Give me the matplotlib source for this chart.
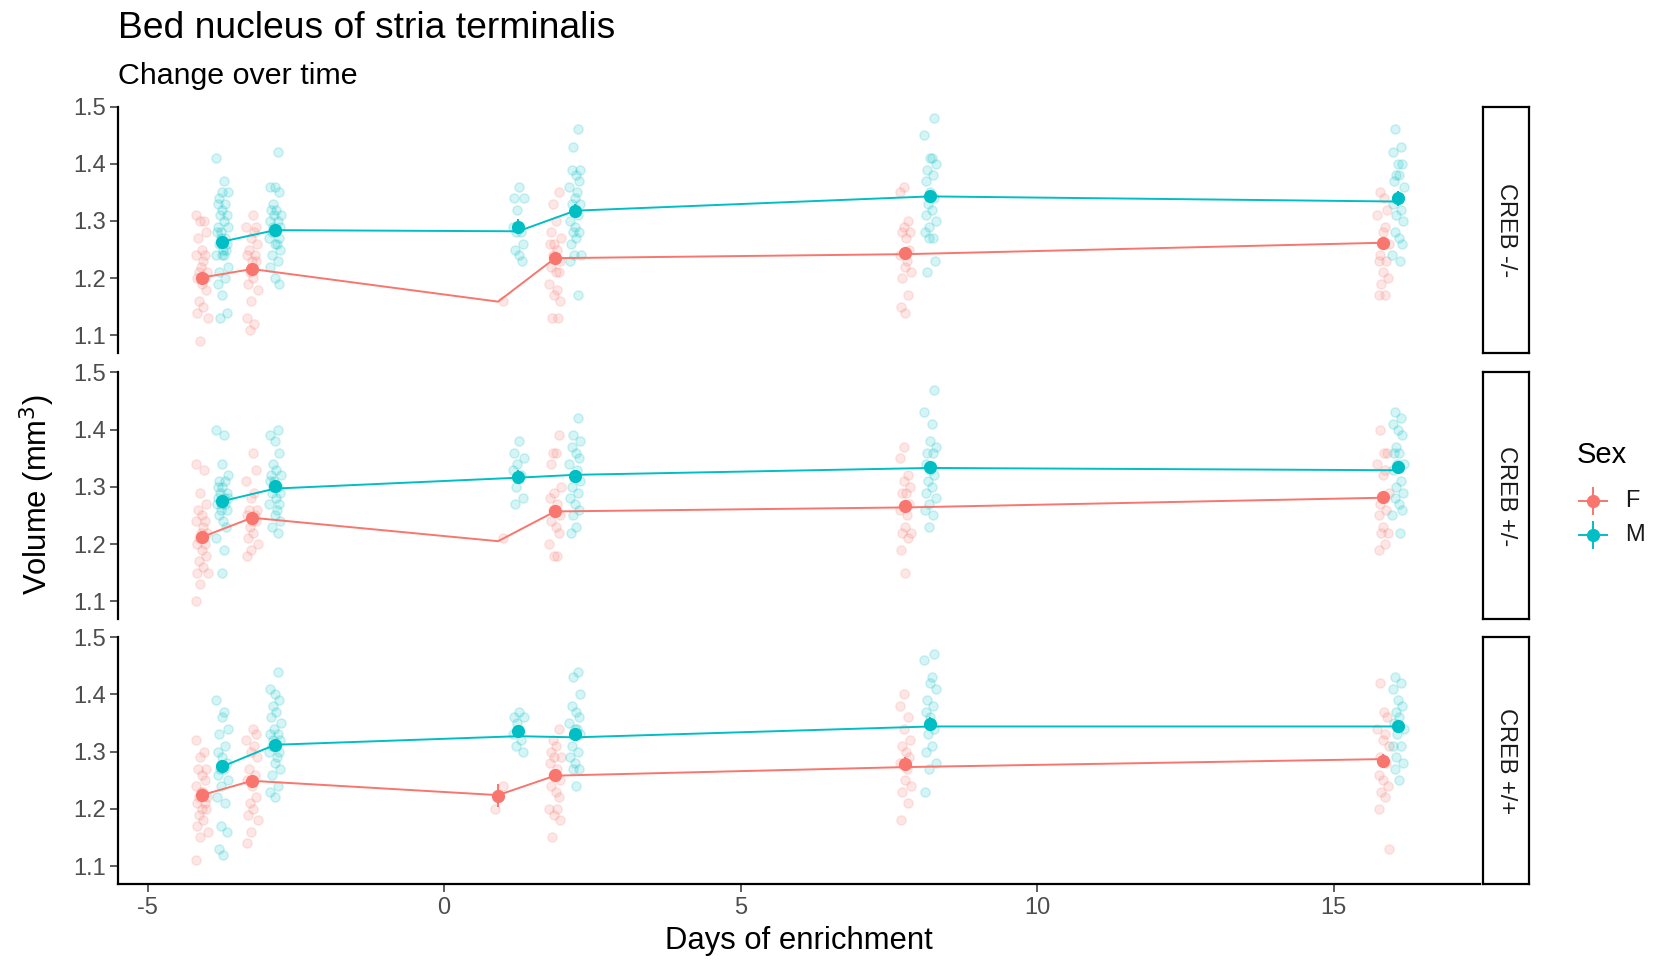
import matplotlib
matplotlib.use("Agg")
import matplotlib.pyplot as plt
import numpy as np

plt.rcParams['font.family'] = ['Liberation Sans', 'DejaVu Sans']

W, H = 1654, 960
COL_F = '#F8766D'
COL_M = '#00BFC4'
TICK_GREY = '#4D4D4D'

GENOTYPES = ["CREB -/-", "CREB +/-", "CREB +/+"]
DAYS_F = [-4.09, -3.24, 0.91, 1.87, 7.78, 15.84]
DAYS_M = [-3.74, -2.85, 1.25, 2.21, 8.20, 16.09]

# individual volumes (mm^3), one list per time point
KO_F = [[1.31, 1.30, 1.30, 1.28, 1.27, 1.25, 1.24, 1.24, 1.23, 1.22, 1.21, 1.21, 1.20, 1.20, 1.19, 1.18, 1.16, 1.15, 1.14, 1.13, 1.09],
        [1.31, 1.29, 1.29, 1.28, 1.27, 1.26, 1.25, 1.24, 1.24, 1.23, 1.23, 1.21, 1.20, 1.19, 1.18, 1.16, 1.13, 1.12, 1.11],
        [1.16],
        [1.35, 1.33, 1.30, 1.28, 1.27, 1.26, 1.26, 1.25, 1.24, 1.23, 1.22, 1.21, 1.21, 1.19, 1.18, 1.17, 1.16, 1.13, 1.13],
        [1.36, 1.35, 1.30, 1.29, 1.28, 1.28, 1.27, 1.25, 1.24, 1.23, 1.22, 1.21, 1.20, 1.17, 1.15, 1.14],
        [1.35, 1.34, 1.32, 1.31, 1.29, 1.28, 1.26, 1.24, 1.23, 1.23, 1.21, 1.20, 1.19, 1.17, 1.17]]
KO_M = [[1.41, 1.37, 1.35, 1.35, 1.34, 1.33, 1.33, 1.32, 1.31, 1.31, 1.30, 1.29, 1.29, 1.28, 1.28, 1.27, 1.27, 1.26, 1.26, 1.25, 1.25, 1.24, 1.24, 1.24, 1.22, 1.21, 1.20, 1.19, 1.17, 1.14, 1.13],
        [1.42, 1.36, 1.36, 1.35, 1.33, 1.32, 1.32, 1.31, 1.31, 1.30, 1.30, 1.29, 1.29, 1.28, 1.28, 1.27, 1.27, 1.26, 1.26, 1.25, 1.24, 1.23, 1.22, 1.20, 1.19],
        [1.36, 1.34, 1.34, 1.32, 1.29, 1.28, 1.28, 1.26, 1.25, 1.24, 1.23],
        [1.46, 1.43, 1.39, 1.39, 1.38, 1.37, 1.36, 1.35, 1.34, 1.33, 1.33, 1.31, 1.30, 1.29, 1.28, 1.28, 1.27, 1.26, 1.24, 1.24, 1.23, 1.17],
        [1.48, 1.45, 1.41, 1.41, 1.40, 1.39, 1.38, 1.37, 1.35, 1.34, 1.33, 1.32, 1.31, 1.30, 1.29, 1.28, 1.27, 1.27, 1.23, 1.21],
        [1.46, 1.43, 1.42, 1.40, 1.40, 1.38, 1.38, 1.37, 1.36, 1.34, 1.33, 1.32, 1.31, 1.30, 1.28, 1.27, 1.26, 1.24, 1.23]]
HET_F = [[1.34, 1.33, 1.29, 1.27, 1.26, 1.25, 1.24, 1.24, 1.23, 1.22, 1.22, 1.21, 1.20, 1.20, 1.19, 1.18, 1.17, 1.16, 1.15, 1.15, 1.13, 1.10],
         [1.36, 1.33, 1.31, 1.29, 1.28, 1.26, 1.26, 1.25, 1.25, 1.24, 1.24, 1.23, 1.22, 1.21, 1.20, 1.19, 1.18],
         [1.21],
         [1.39, 1.36, 1.36, 1.34, 1.30, 1.29, 1.28, 1.27, 1.26, 1.25, 1.24, 1.23, 1.22, 1.20, 1.18, 1.18],
         [1.37, 1.35, 1.32, 1.31, 1.30, 1.29, 1.29, 1.27, 1.26, 1.25, 1.23, 1.22, 1.22, 1.21, 1.19, 1.15],
         [1.40, 1.36, 1.36, 1.34, 1.33, 1.32, 1.29, 1.27, 1.26, 1.25, 1.23, 1.22, 1.22, 1.20, 1.19]]
HET_M = [[1.40, 1.39, 1.34, 1.32, 1.31, 1.31, 1.30, 1.30, 1.29, 1.29, 1.28, 1.28, 1.28, 1.27, 1.27, 1.27, 1.26, 1.26, 1.25, 1.24, 1.23, 1.21, 1.19, 1.15],
         [1.40, 1.39, 1.38, 1.36, 1.34, 1.33, 1.32, 1.32, 1.31, 1.31, 1.30, 1.30, 1.29, 1.29, 1.28, 1.27, 1.27, 1.26, 1.25, 1.24, 1.23, 1.22],
         [1.38, 1.36, 1.35, 1.34, 1.33, 1.32, 1.30, 1.28, 1.27],
         [1.42, 1.39, 1.38, 1.37, 1.36, 1.35, 1.34, 1.33, 1.32, 1.31, 1.30, 1.29, 1.28, 1.27, 1.26, 1.25, 1.23, 1.22],
         [1.47, 1.43, 1.41, 1.38, 1.37, 1.36, 1.36, 1.34, 1.33, 1.32, 1.31, 1.30, 1.29, 1.28, 1.27, 1.26, 1.25, 1.23],
         [1.43, 1.42, 1.41, 1.40, 1.39, 1.37, 1.36, 1.36, 1.34, 1.34, 1.33, 1.31, 1.30, 1.29, 1.28, 1.27, 1.26, 1.25, 1.22]]
WT_F = [[1.32, 1.30, 1.29, 1.27, 1.27, 1.26, 1.25, 1.24, 1.23, 1.23, 1.22, 1.22, 1.21, 1.21, 1.20, 1.20, 1.19, 1.18, 1.17, 1.16, 1.15, 1.11],
        [1.34, 1.33, 1.32, 1.31, 1.30, 1.29, 1.27, 1.26, 1.25, 1.24, 1.22, 1.21, 1.20, 1.19, 1.18, 1.16, 1.14],
        [1.24, 1.20],
        [1.34, 1.32, 1.31, 1.30, 1.29, 1.29, 1.28, 1.27, 1.26, 1.25, 1.24, 1.23, 1.22, 1.20, 1.20, 1.19, 1.18, 1.15],
        [1.40, 1.38, 1.36, 1.34, 1.32, 1.31, 1.30, 1.29, 1.28, 1.27, 1.25, 1.24, 1.23, 1.21, 1.18],
        [1.42, 1.37, 1.36, 1.34, 1.33, 1.32, 1.31, 1.29, 1.28, 1.26, 1.25, 1.24, 1.23, 1.22, 1.20, 1.13]]
WT_M = [[1.39, 1.37, 1.36, 1.34, 1.33, 1.31, 1.30, 1.29, 1.28, 1.27, 1.27, 1.26, 1.25, 1.24, 1.22, 1.21, 1.17, 1.16, 1.13, 1.12],
        [1.44, 1.41, 1.40, 1.39, 1.38, 1.37, 1.36, 1.35, 1.34, 1.33, 1.33, 1.32, 1.32, 1.31, 1.31, 1.30, 1.30, 1.29, 1.28, 1.27, 1.26, 1.24, 1.23, 1.22],
        [1.37, 1.36, 1.36, 1.35, 1.33, 1.32, 1.31, 1.30],
        [1.44, 1.43, 1.40, 1.38, 1.37, 1.36, 1.35, 1.34, 1.34, 1.33, 1.31, 1.30, 1.29, 1.28, 1.27, 1.27, 1.24],
        [1.47, 1.46, 1.43, 1.42, 1.41, 1.39, 1.38, 1.37, 1.36, 1.34, 1.33, 1.31, 1.30, 1.28, 1.27, 1.23],
        [1.43, 1.42, 1.41, 1.39, 1.38, 1.37, 1.36, 1.35, 1.34, 1.33, 1.31, 1.31, 1.29, 1.28, 1.27, 1.25]]

# group means and standard errors (nan = no summary shown)
MEAN_F = [[1.201, 1.216, np.nan, 1.235, 1.244, 1.262],
          [1.212, 1.246, np.nan, 1.257, 1.266, 1.282],
          [1.224, 1.249, 1.223, 1.260, 1.279, 1.284]]
SE_F = [[0.009, 0.010, np.nan, 0.010, 0.011, 0.010],
        [0.008, 0.009, np.nan, 0.010, 0.010, 0.011],
        [0.008, 0.010, 0.020, 0.009, 0.011, 0.011]]
MEAN_M = [[1.264, 1.284, 1.290, 1.318, 1.343, 1.340],
          [1.275, 1.301, 1.318, 1.319, 1.334, 1.334],
          [1.275, 1.312, 1.336, 1.330, 1.349, 1.345]]
SE_M = [[0.010, 0.010, 0.013, 0.011, 0.012, 0.013],
        [0.009, 0.009, 0.011, 0.010, 0.011, 0.010],
        [0.011, 0.009, 0.010, 0.012, 0.011, 0.010]]
# model fit lines
LINE_F = [[1.201, 1.216, 1.159, 1.235, 1.242, 1.262],
          [1.212, 1.246, 1.205, 1.257, 1.264, 1.281],
          [1.224, 1.249, 1.224, 1.258, 1.273, 1.287]]
LINE_M = [[1.264, 1.284, 1.282, 1.318, 1.343, 1.334],
          [1.275, 1.297, 1.316, 1.321, 1.333, 1.329],
          [1.274, 1.312, 1.327, 1.325, 1.344, 1.344]]

POINTS_F = [KO_F, HET_F, WT_F]
POINTS_M = [KO_M, HET_M, WT_M]

# fixed horizontal jitter pattern (days)
JITTER = [-0.09, 0.04, -0.03, 0.08, -0.06, 0.01, 0.06, -0.10, 0.03, -0.01, 0.09,
          -0.05, 0.05, -0.08, 0.00, 0.07, -0.04, 0.02, -0.07, 0.10, -0.02]


def px_axes(x0, y0, x1, y1):
    return fig.add_axes([x0 / W, 1 - y1 / H, (x1 - x0) / W, (y1 - y0) / H])


fig = plt.figure(figsize=(W / 100, H / 100), dpi=100)

PANEL_L, PANEL_R = 118, 1480
PANELS_Y = [(106.6, 353.4), (372.4, 619.3), (637.2, 884.1)]


def draw_group(ax, days, pts, means, ses, line, col, shift):
    for j, (d, vals) in enumerate(zip(days, pts)):
        xs = [d + JITTER[(k + shift + 5 * j) % len(JITTER)] for k in range(len(vals))]
        ax.scatter(xs, vals, s=44, color=col, alpha=0.17, linewidths=1.1, zorder=2)
    ax.plot(days, line, color=col, lw=1.4, zorder=3, solid_capstyle='round')
    m = np.array(means, dtype=float)
    s = np.array(ses, dtype=float)
    ok = ~np.isnan(m)
    ax.errorbar(np.array(days)[ok], m[ok], yerr=s[ok], fmt='o', color=col,
                ms=8.5, elinewidth=1.4, capsize=0, zorder=4)


for i, (top, bot) in enumerate(PANELS_Y):
    ax = px_axes(PANEL_L, top, PANEL_R, bot)
    draw_group(ax, DAYS_F, POINTS_F[i], MEAN_F[i], SE_F[i], LINE_F[i], COL_F, 0)
    draw_group(ax, DAYS_M, POINTS_M[i], MEAN_M[i], SE_M[i], LINE_M[i], COL_M, 7)
    ax.set_xlim(-5.5, 17.47)
    ax.set_ylim(1.0685, 1.5)
    ax.set_yticks([1.1, 1.2, 1.3, 1.4, 1.5])
    ax.set_yticklabels(["1.1", "1.2", "1.3", "1.4", "1.5"])
    ax.set_xticks([-5, 0, 5, 10, 15])
    for sp in ['top', 'right']:
        ax.spines[sp].set_visible(False)
    ax.spines['left'].set_linewidth(1.6)
    ax.spines['left'].set_color('black')
    ax.tick_params(axis='both', length=5.5, width=1.1, color='#333333',
                   labelsize=17, labelcolor=TICK_GREY, pad=3)
    if i < 2:
        ax.spines['bottom'].set_visible(False)
        ax.tick_params(axis='x', bottom=False, labelbottom=False)
    else:
        ax.spines['bottom'].set_linewidth(1.6)
        ax.set_xticklabels(["-5", "0", "5", "10", "15"])
        ax.tick_params(axis='x', pad=4)

    # facet strip
    sx = px_axes(1483, top, 1529, bot)
    sx.set_xticks([])
    sx.set_yticks([])
    for sp in sx.spines.values():
        sp.set_linewidth(1.6)
        sp.set_color('black')
    sx.text(0.5, 0.5, GENOTYPES[i], rotation=270, ha='center', va='center',
            fontsize=17, color='#1A1A1A', transform=sx.transAxes)

fig.text(PANEL_L / W, 1 - 29 / H, "Bed nucleus of stria terminalis", fontsize=26.8,
         ha='left', va='center', color='black')
fig.text(PANEL_L / W, 1 - 76 / H, "Change over time", fontsize=21.9,
         ha='left', va='center', color='black')
fig.text(799 / W, 1 - 941 / H, "Days of enrichment", fontsize=22.3,
         ha='center', va='center')
fig.text(37 / W, 1 - 494 / H, "Volume (mm$^3$)", fontsize=22.3, rotation=90,
         ha='center', va='center')

# legend
lg = px_axes(1560, 420, 1654, 560)
lg.set_xlim(1560, 1654)
lg.set_ylim(560, 420)
lg.axis('off')
lg.text(1577, 455, "Sex", fontsize=21, ha='left', va='center')
for yk, lab, col in [(501, "F", COL_F), (535, "M", COL_M)]:
    lg.plot([1579, 1607], [yk, yk], color=col, lw=1.4)
    lg.plot([1593, 1593], [yk - 13, yk + 13], color=col, lw=1.4)
    lg.plot([1593], [yk], 'o', color=col, ms=8.5)
    lg.text(1625, yk, lab, fontsize=17, ha='left', va='center', color='#1A1A1A')

fig.savefig("out.png", dpi=100)
